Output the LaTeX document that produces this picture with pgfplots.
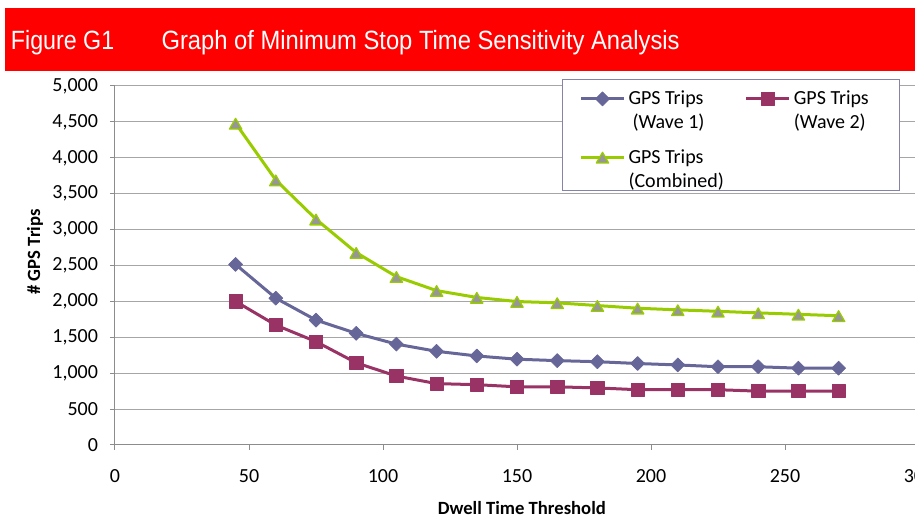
\documentclass[border=0pt]{standalone}
\usepackage{pgfplots}
\usepackage{pgfplotstable}
\pgfplotsset{compat=1.18}
\usepackage{fontspec}
\setmainfont{Carlito}
\newfontfamily\narrowfont[FakeStretch=0.88]{Liberation Sans}
\newfontfamily\titlefont[FakeStretch=0.9]{Liberation Sans}

\definecolor{waveone}{HTML}{666699}
\definecolor{wavetwo}{HTML}{993366}
\definecolor{combined}{HTML}{99CC00}
\definecolor{trifill}{HTML}{969696}
\definecolor{gridgray}{HTML}{A6A6A6}
\definecolor{axisgray}{HTML}{8C8C8C}
\definecolor{legendframe}{HTML}{8484A8}

% dwell time threshold vs number of GPS trips
\pgfplotstableread{
x    w1    w2    comb
45   2515  2000  4480
60   2045  1670  3690
75   1740  1440  3145
90   1555  1145  2680
105  1405  960   2345
120  1305  855   2150
135  1240  840   2055
150  1195  810   1998
165  1175  810   1980
180  1160  795   1942
195  1135  770   1905
210  1115  770   1882
225  1090  770   1862
240  1090  750   1840
255  1070  750   1820
270  1070  750   1800
}\trips

\begin{document}
\begin{tikzpicture}
\useasboundingbox (0,0) rectangle (686.25pt,388.5pt);
% title bar
\fill[red] (3.75pt,335.25pt) rectangle (686.25pt,382.5pt);
\node[anchor=base west, text=white, inner sep=0pt, font=\narrowfont\fontsize{19.8}{24}\selectfont]
  at (8pt,351pt) {Figure G1};
\node[anchor=base west, text=white, inner sep=0pt, font=\titlefont\fontsize{19.8}{24}\selectfont]
  at (121pt,351pt) {Graph of Minimum Stop Time Sensitivity Analysis};

\begin{axis}[
  at={(86.25pt,54.75pt)}, anchor=south west,
  width=603pt, height=269.25pt, scale only axis,
  xmin=0, xmax=300, ymin=0, ymax=5000,
  xtick={0,50,...,300}, ytick={0,500,...,5000},
  axis lines*=left,
  axis line style={axisgray, line width=0.75pt},
  tick align=outside, major tick length=3.75pt,
  tick style={axisgray, line width=0.75pt},
  ymajorgrids, major grid style={gridgray, line width=0.75pt},
  /pgf/number format/assume math mode=true,
  ticklabel style={font=\fontsize{15}{18}\selectfont},
  xticklabel style={anchor=north, yshift=-11pt},
  yticklabel style={anchor=east, xshift=-5.5pt},
  label style={font=\bfseries\fontsize{14}{17}\selectfont},
  xlabel={Dwell Time Threshold},
  ylabel={\# GPS Trips},
  xlabel style={at={(axis description cs:0.506,-0.1755)}, anchor=center},
  ylabel style={at={(axis description cs:-0.0995,0.5376)}, anchor=center},
  legend columns=2,
  legend image code/.code={\draw[mark repeat=2, mark phase=2, #1]
      plot coordinates {(0pt,22.5pt) (16.125pt,22.5pt) (32.25pt,22.5pt)};},
  legend style={at={(axis description cs:0.556,1.0195)}, anchor=north west,
    draw=legendframe, line width=0.75pt, fill=white,
    inner xsep=12.75pt, inner ysep=1pt,
    column sep=2.25pt, row sep=11.75pt,
    font=\fontsize{15}{18}\selectfont,
    cells={anchor=base west},
    nodes={inner sep=0pt}},
]
\addplot[waveone, line width=2.25pt, line join=round,
  mark=square*, mark size=3.7pt,
  mark options={rotate=45, fill=waveone, draw=waveone, line width=0.5pt}]
  table[x=x, y=w1] {\trips};
\addlegendentry{\begin{tabular}[b]{@{}p{85pt}@{}}\rule{0pt}{18pt}GPS Trips\\\hspace*{3pt}(Wave 1)\end{tabular}}
\addplot[wavetwo, line width=2.25pt, line join=round,
  mark=square*, mark size=5pt,
  mark options={fill=wavetwo, draw=wavetwo, line width=0.5pt}]
  table[x=x, y=w2] {\trips};
\addlegendentry{\begin{tabular}[b]{@{}p{66.25pt}@{}}\rule{0pt}{18pt}GPS Trips\\(Wave 2)\end{tabular}}
\addplot[combined, line width=2.25pt, line join=round,
  mark=triangle*, mark size=5.3pt,
  mark options={fill=trifill, draw=combined, line width=1pt, yshift=-1.6pt}]
  table[x=x, y=comb] {\trips};
\addlegendentry{\begin{tabular}[b]{@{}p{85pt}@{}}GPS Trips\\(Combined)\rule[-7pt]{0pt}{7pt}\end{tabular}}
\end{axis}
\end{tikzpicture}
\end{document}
